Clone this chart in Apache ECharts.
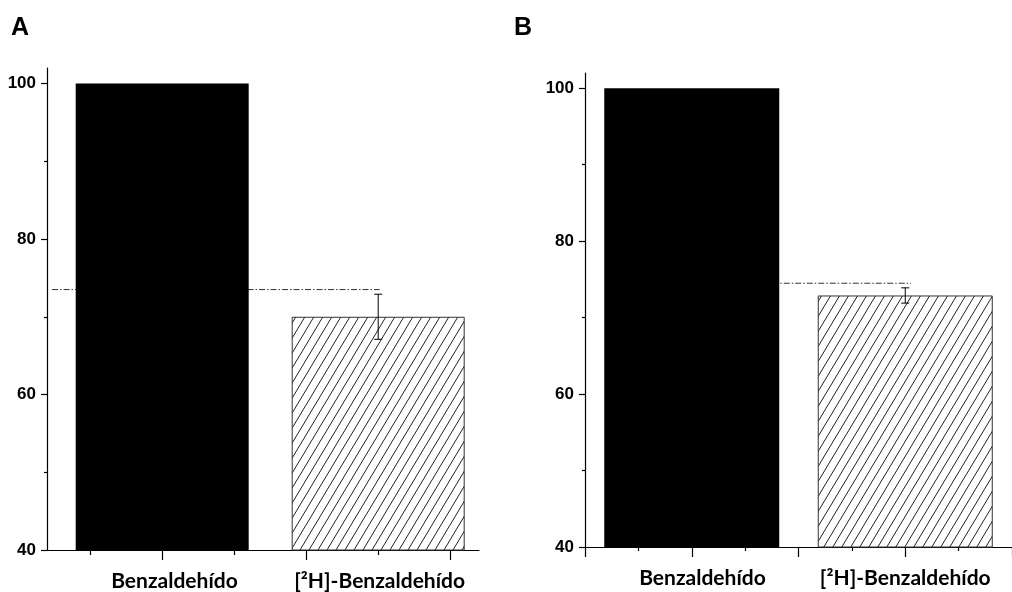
<!DOCTYPE html>
<html>
<head>
<meta charset="utf-8">
<script src="https://cdn.jsdelivr.net/npm/echarts@6/dist/echarts.min.js"></script>
<style>html,body{margin:0;padding:0;background:#fff}#c{width:1012px;height:592px}</style>
</head>
<body>
<div id="c"></div>
<script>
// ---- data ----
const categories = ['Benzaldehído', '[²H]-Benzaldehído'];
const valuesA = [100, 70];
const errorsA = [0, 2.9];
const refLineA = 73.5;
const valuesB = [100, 72.9];
const errorsB = [0, 1.0];
const refLineB = 74.5;
const yMajorTicks = [40, 60, 80, 100];
const yMinorTicks = [50, 70, 90];
const panelLetters = ['A', 'B'];

// ---- layout (positions on each panel's x value scale) ----
const layout = {
  A: { grid: {left: 47, top: 68, width: 432, height: 482}, xMax: 6,
       bars: [1.6, 4.6], labels: [1.77, 4.62], major: [1.6, 3.6, 5.6], minor: [0.6, 2.6, 4.6],
       line: [0.07, 4.62], barWidth: 173, majorLen: 10, minorLen: 5 },
  B: { grid: {left: 585, top: 73, width: 435, height: 474}, xMax: 8,
       bars: [2, 6], labels: [2.2, 6.0], major: [0, 2, 4, 6, 8], minor: [1, 3, 5, 7],
       line: [2, 6.11], barWidth: 175, majorLen: 10, minorLen: 4 }
};

function hatchPattern() {
  const w = 9, h = 15;
  const c = document.createElement('canvas');
  c.width = w; c.height = h;
  const ctx = c.getContext('2d');
  ctx.fillStyle = '#fff'; ctx.fillRect(0, 0, w, h);
  ctx.strokeStyle = '#222'; ctx.lineWidth = 1;
  for (const dx of [-w, 0, w]) {
    ctx.beginPath(); ctx.moveTo(dx, h); ctx.lineTo(dx + w, 0); ctx.stroke();
  }
  return c;
}
const hatch = {image: hatchPattern(), repeat: 'repeat'};

const numFont = '"Liberation Sans", Arial, sans-serif';
const catFont = 'Lato, "Noto Sans", sans-serif';

const grids = [], xAxes = [], yAxes = [], series = [];
const panels = [
  {key: 'A', values: valuesA, errors: errorsA, ref: refLineA},
  {key: 'B', values: valuesB, errors: errorsB, ref: refLineB}
];
panels.forEach((p, gi) => {
  const L = layout[p.key];
  grids.push(L.grid);
  const xi = xAxes.length;
  const baseX = {type: 'value', gridIndex: gi, min: 0, max: L.xMax, position: 'bottom',
    splitLine: {show: false}, axisLine: {show: false}, axisTick: {show: false}, axisLabel: {show: false}};
  xAxes.push(Object.assign({}, baseX, {
    axisLine: {show: true, onZero: false, lineStyle: {color: '#000', width: 1.2}},
    axisTick: {show: true, inside: false, customValues: L.major, length: L.majorLen, lineStyle: {color: '#000', width: 1.2}}
  }));
  xAxes.push(Object.assign({}, baseX, {
    axisTick: {show: true, inside: false, customValues: L.minor, length: L.minorLen, lineStyle: {color: '#000', width: 1.2}}
  }));
  xAxes.push(Object.assign({}, baseX, {
    axisLabel: {show: true, customValues: L.labels, margin: 21,
      formatter: v => { const i = L.labels.indexOf(v); return i >= 0 ? categories[i] : ''; },
      color: '#000', fontFamily: catFont, fontWeight: 'bold', fontSize: 21}
  }));
  const yi = yAxes.length;
  const baseY = {type: 'value', gridIndex: gi, min: 40, max: 102, position: 'left',
    splitLine: {show: false}, axisLine: {show: false}, axisTick: {show: false}, axisLabel: {show: false}};
  yAxes.push(Object.assign({}, baseY, {
    axisLine: {show: true, onZero: false, lineStyle: {color: '#000', width: 1.2}},
    axisTick: {show: true, inside: false, customValues: yMajorTicks, length: 6, lineStyle: {color: '#000', width: 1.2}},
    axisLabel: {show: true, customValues: yMajorTicks, margin: 11, color: '#000',
      fontFamily: numFont, fontWeight: 'bold', fontSize: 17}
  }));
  yAxes.push(Object.assign({}, baseY, {
    axisTick: {show: true, inside: false, customValues: yMinorTicks, length: 3, lineStyle: {color: '#000', width: 1.2}}
  }));

  series.push({
    type: 'line', xAxisIndex: xi, yAxisIndex: yi, z: 1, symbol: 'none', silent: true,
    data: [[L.line[0], p.ref], [L.line[1], p.ref]],
    lineStyle: {color: '#333', width: 1, type: [6, 2, 1.5, 2]}
  });
  series.push({
    type: 'bar', xAxisIndex: xi, yAxisIndex: yi, z: 2, barWidth: L.barWidth,
    data: p.values.map((v, i) => ({
      value: [L.bars[i], v],
      itemStyle: i === 0 ? {color: '#000'} : {color: hatch, borderColor: '#333', borderWidth: 1}
    }))
  });
  series.push({
    type: 'custom', xAxisIndex: xi, yAxisIndex: yi, z: 3,
    data: p.values.map((v, i) => [L.bars[i], v, p.errors[i]]).filter(d => d[2] > 0),
    renderItem: (params, api) => {
      const x = api.value(0), y = api.value(1), e = api.value(2);
      const t = api.coord([x, y + e]), b = api.coord([x, y - e]);
      const hw = 4, st = {stroke: '#000', lineWidth: 1};
      return {type: 'group', children: [
        {type: 'line', shape: {x1: t[0], y1: t[1], x2: b[0], y2: b[1]}, style: st},
        {type: 'line', shape: {x1: t[0] - hw, y1: t[1], x2: t[0] + hw, y2: t[1]}, style: st},
        {type: 'line', shape: {x1: b[0] - hw, y1: b[1], x2: b[0] + hw, y2: b[1]}, style: st}
      ]};
    }
  });
});

const chart = echarts.init(document.getElementById('c'));
chart.setOption({
  animation: false,
  backgroundColor: '#fff',
  title: [
    {text: panelLetters[0], left: 11, top: 16, padding: 0,
     textStyle: {fontFamily: '"Liberation Sans", Arial, sans-serif', fontWeight: 'bold', fontSize: 25, color: '#000'}},
    {text: panelLetters[1], left: 514, top: 16, padding: 0,
     textStyle: {fontFamily: '"Liberation Sans", Arial, sans-serif', fontWeight: 'bold', fontSize: 25, color: '#000'}}
  ],
  grid: grids,
  xAxis: xAxes,
  yAxis: yAxes,
  series: series
});
</script>
</body>
</html>
